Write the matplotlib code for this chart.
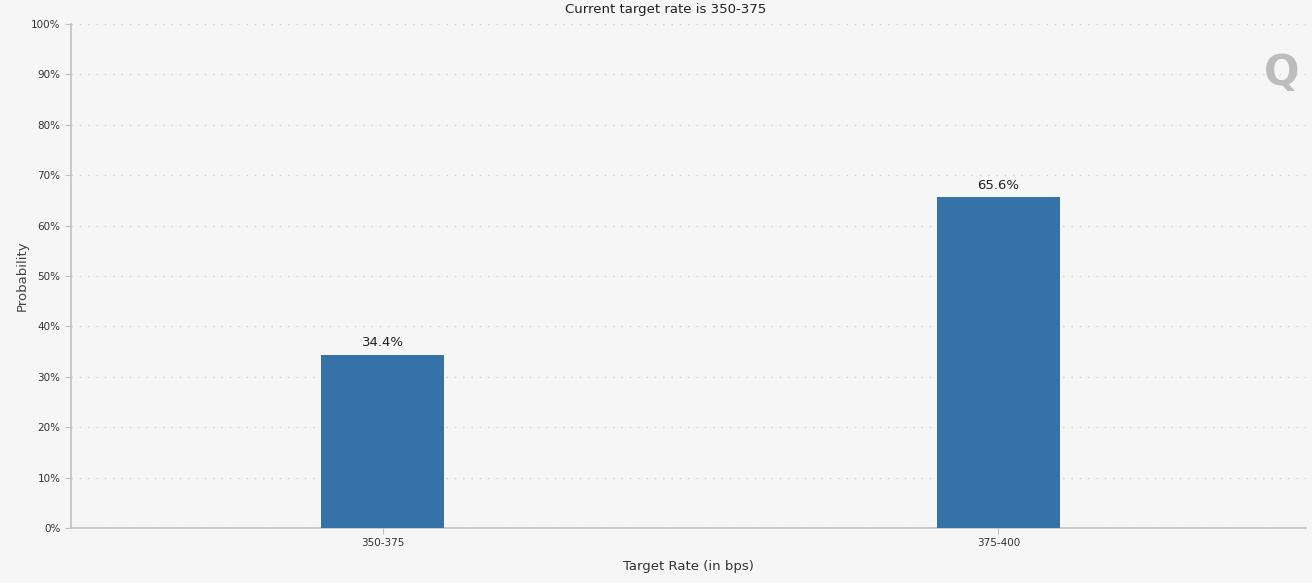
import matplotlib
matplotlib.use("Agg")
import matplotlib.pyplot as plt
import numpy as np

categories = ["350-375", "375-400"]
probabilities = [34.4, 65.6]
y_ticks = np.arange(0, 101, 10)

BG = "#f6f6f6"
BAR = "#3572a8"
AXIS = "#c0c0c0"


def draw_bars(ax):
    x = np.arange(len(categories))
    bars = ax.bar(x, probabilities, width=0.2, color=BAR, zorder=3)
    for rect, val in zip(bars, probabilities):
        ax.annotate("{:.1f}%".format(val),
                    (rect.get_x() + rect.get_width() / 2, rect.get_height()),
                    xytext=(0, 4), textcoords="offset points",
                    ha="center", va="bottom", fontsize=9.5, color="#222222")
    ax.set_xticks(x)
    ax.set_xticklabels(categories)


def style_axes(ax):
    ax.set_facecolor(BG)
    ax.set_xlim(-0.507, 1.5)
    ax.set_ylim(0, 100)
    ax.set_yticks(y_ticks)
    ax.set_yticklabels(["{}%".format(t) for t in y_ticks])
    ax.grid(axis="y", linestyle=(0, (1, 5)), color="#d0d0d0", linewidth=1, zorder=0)
    for side in ["top", "right"]:
        ax.spines[side].set_visible(False)
    for side in ["left", "bottom"]:
        ax.spines[side].set_color(AXIS)
        ax.spines[side].set_linewidth(1.2)
    ax.tick_params(axis="both", colors=AXIS, labelcolor="#333333", labelsize=7.5, length=4)
    ax.set_xlabel("Target Rate (in bps)", fontsize=9.5, color="#333333", labelpad=8)
    ax.set_ylabel("Probability", fontsize=9.5, color="#444444", labelpad=2)


if __name__ == '__main__':
    fig = plt.figure(figsize=(13.12, 5.83), dpi=100, facecolor=BG)
    ax = fig.add_axes([0.0541, 0.0943, 0.9413, 0.8645])
    style_axes(ax)
    draw_bars(ax)
    fig.text(0.507, 0.984, "Current target rate is 350-375", fontsize=9.5,
             color="#222222", ha="center", va="center")
    fig.text(0.9765, 0.874, "Q", fontsize=30, fontweight="bold", color="#bdbdbd",
             ha="center", va="center")
    fig.savefig("out.png", dpi=100, facecolor=BG)
